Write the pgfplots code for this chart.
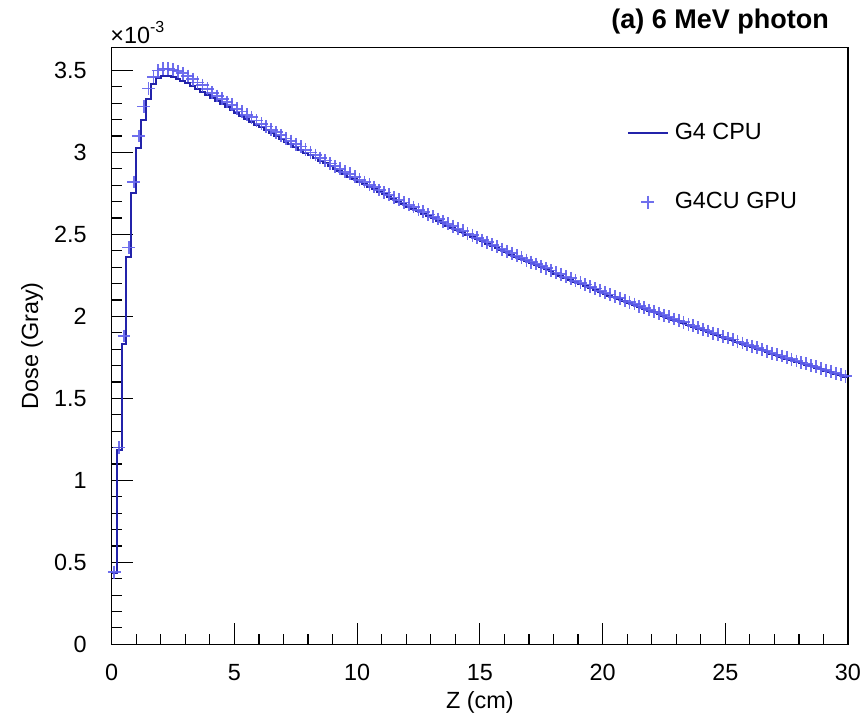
\documentclass[border=0pt]{standalone}
\usepackage{fontspec}
\setmainfont{Liberation Sans}
\usepackage{pgfplots}
\usepackage{pgfplotstable}
\pgfplotsset{compat=1.18}

\definecolor{cpublue}{RGB}{35,35,170}
\definecolor{gpublue}{RGB}{95,95,235}

\pgfplotsset{
    lineimg/.style={legend image code/.code={\path[draw=none, fill=none] (0pt,-3pt) rectangle (20pt,3pt); \draw[##1] (0pt,0pt) -- (20pt,0pt);}},
    markimg/.style={legend image code/.code={\path[draw=none, fill=none] (0pt,-3pt) rectangle (20pt,3pt); \draw[##1, mark repeat=2, mark phase=2] plot coordinates {(0pt,0pt) (10pt,0pt) (20pt,0pt)};}},
}

% dose per 0.2 cm bin, in 1e-3 Gray; z = left bin edge
\pgfplotstableread{
z cpu gpu
0.0 0.435 0.440
0.2 1.185 1.200
0.4 1.830 1.880
0.6 2.360 2.420
0.8 2.750 2.820
1.0 3.030 3.100
1.2 3.200 3.280
1.4 3.325 3.390
1.6 3.420 3.460
1.8 3.455 3.500
2.0 3.465 3.510
2.2 3.465 3.512
2.4 3.458 3.505
2.6 3.448 3.495
2.8 3.437 3.482
3.0 3.425 3.466
3.2 3.406 3.447
3.4 3.387 3.426
3.6 3.369 3.409
3.8 3.350 3.388
4.0 3.331 3.364
4.2 3.313 3.344
4.4 3.295 3.328
4.6 3.276 3.307
4.8 3.258 3.290
5.0 3.240 3.266
5.2 3.222 3.249
5.4 3.205 3.230
5.6 3.187 3.214
5.8 3.170 3.195
6.0 3.152 3.174
6.2 3.135 3.158
6.4 3.118 3.139
6.6 3.100 3.123
6.8 3.083 3.104
7.0 3.066 3.085
7.2 3.049 3.069
7.4 3.032 3.050
7.6 3.016 3.036
7.8 2.999 3.017
8.0 2.982 2.999
8.2 2.966 2.984
8.4 2.950 2.966
8.6 2.933 2.951
8.8 2.917 2.933
9.0 2.901 2.916
9.2 2.885 2.901
9.4 2.869 2.883
9.6 2.853 2.869
9.8 2.837 2.851
10.0 2.821 2.834
10.2 2.806 2.820
10.4 2.790 2.802
10.6 2.775 2.789
10.8 2.759 2.771
11.0 2.744 2.756
11.2 2.729 2.742
11.4 2.714 2.725
11.6 2.699 2.712
11.8 2.684 2.695
12.0 2.669 2.680
12.2 2.655 2.667
12.4 2.640 2.650
12.6 2.626 2.638
12.8 2.611 2.621
13.0 2.597 2.607
13.2 2.583 2.594
13.4 2.569 2.578
13.6 2.554 2.565
13.8 2.540 2.549
14.0 2.526 2.535
14.2 2.512 2.522
14.4 2.498 2.506
14.6 2.485 2.494
14.8 2.471 2.479
15.0 2.457 2.465
15.2 2.444 2.453
15.4 2.430 2.437
15.6 2.417 2.426
15.8 2.403 2.410
16.0 2.390 2.397
16.2 2.377 2.385
16.4 2.364 2.370
16.6 2.350 2.358
16.8 2.337 2.343
17.0 2.324 2.331
17.2 2.311 2.319
17.4 2.299 2.305
17.6 2.286 2.294
17.8 2.274 2.280
18.0 2.261 2.268
18.2 2.249 2.257
18.4 2.236 2.242
18.6 2.224 2.232
18.8 2.211 2.217
19.0 2.199 2.206
19.2 2.187 2.195
19.4 2.175 2.181
19.6 2.163 2.170
19.8 2.151 2.157
20.0 2.139 2.144
20.2 2.127 2.133
20.4 2.116 2.120
20.6 2.104 2.110
20.8 2.093 2.097
21.0 2.081 2.086
21.2 2.070 2.076
21.4 2.058 2.062
21.6 2.047 2.053
21.8 2.035 2.039
22.0 2.024 2.029
22.2 2.013 2.019
22.4 2.002 2.006
22.6 1.991 1.997
22.8 1.980 1.984
23.0 1.969 1.974
23.2 1.958 1.964
23.4 1.947 1.951
23.6 1.937 1.943
23.8 1.926 1.930
24.0 1.915 1.920
24.2 1.905 1.911
24.4 1.894 1.898
24.6 1.884 1.890
24.8 1.873 1.877
25.0 1.863 1.868
25.2 1.853 1.859
25.4 1.843 1.847
25.6 1.832 1.838
25.8 1.822 1.826
26.0 1.812 1.817
26.2 1.802 1.808
26.4 1.792 1.796
26.6 1.782 1.788
26.8 1.772 1.776
27.0 1.762 1.767
27.2 1.752 1.758
27.4 1.743 1.747
27.6 1.733 1.739
27.8 1.724 1.728
28.0 1.714 1.719
28.2 1.705 1.711
28.4 1.695 1.699
28.6 1.686 1.692
28.8 1.676 1.680
29.0 1.667 1.672
29.2 1.658 1.664
29.4 1.649 1.653
29.6 1.640 1.646
29.8 1.631 1.635
30.0 1.631 1.635
}\dose

\newcommand{\lblfont}{\fontsize{11.7}{14}\selectfont}

\begin{document}
\begin{tikzpicture}
\path[use as bounding box] (-55.85pt,-35.85pt) rectangle (376.15pt,322.15pt);
\begin{axis}[
    at={(0pt,0pt)}, anchor=south west,
    width=368.15pt, height=298.4pt, scale only axis,
    xmin=0, xmax=30, ymin=0, ymax=3.64,
    xtick={0,5,...,30}, ytick={0,0.5,...,3.5},
    minor x tick num=4, minor y tick num=4,
    tick align=inside, xtick pos=bottom, ytick pos=left,
    major tick length=10.5pt, minor tick length=5.3pt,
    every tick/.style={black, line width=0.6pt},
    axis line style={line width=0.75pt},
    /pgf/number format/assume math mode=true,
    tick label style={font=\lblfont},
    yticklabel style={inner sep=0pt, xshift=-12.3pt},
    xticklabel style={inner sep=0pt, yshift=-9.8pt},
    xlabel={Z (cm)}, ylabel={Dose (Gray)},
    xlabel style={at={(axis description cs:0.5,-0.098)}, anchor=center, font=\lblfont},
    ylabel style={at={(axis description cs:-0.1082,0.5)}, anchor=center, font=\lblfont},
    clip=false,
    legend cell align=left,
    legend style={draw=none, fill=none, at={(axis description cs:0.699,0.799)},
        anchor=west, inner sep=0pt, row sep=25pt, column sep=3pt,
        nodes={inner sep=0pt}, font=\lblfont},
]
\addplot[const plot mark left, cpublue, line width=1pt, lineimg]
    table[x=z, y=cpu] {\dose};
\addlegendentry{G4 CPU}
\addplot[only marks, mark=+, mark size=3.2pt, gpublue, opacity=0.9, line width=0.9pt,
    skip coords between index={150}{151}, markimg]
    table[x expr=\thisrow{z}+0.1, y=gpu] {\dose};
\addlegendentry{G4CU GPU}
\end{axis}
\node[anchor=base east, font=\bfseries\fontsize{13.5}{16}\selectfont] at (362.15pt,307.65pt) {(a) 6 MeV photon};
\node[anchor=base west, inner sep=0pt, font=\lblfont] at (-0.85pt,300.4pt) {×10\raisebox{0.85ex}{\fontsize{8}{9}\selectfont -3}};
\end{tikzpicture}
\end{document}
